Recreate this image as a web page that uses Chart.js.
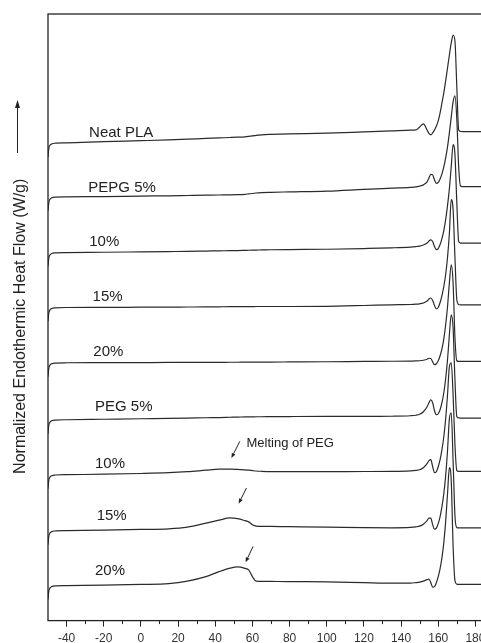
<!DOCTYPE html>
<html>
<head>
<meta charset="utf-8">
<script src="https://cdn.jsdelivr.net/npm/chart.js@4.4.1/dist/chart.umd.min.js"></script>
<style>
html, body { margin: 0; padding: 0; background: #fff; overflow: hidden; }
#wrap { position: absolute; left: 0; top: 0; width: 490px; height: 650px; }
</style>
</head>
<body>
<div id="wrap"><canvas id="dscChart"></canvas></div>
<script>
// temperature grid (deg C), shared by all traces
const temps = [-50, -49.6, -49, -48, -46, -40, -20, 0, 15, 25, 35, 42, 48, 52, 56, 58, 60, 62, 65, 70,
  80, 100, 120, 135, 145, 148, 150, 152, 154, 155, 156, 157, 158, 159, 160, 161, 162, 163, 164, 165,
  166, 167, 168, 169, 170, 171, 172, 173, 175, 180, 188];

const seriesNames = ['Neat PLA', 'PEPG 5%', '10%', '15%', '20%', 'PEG 5%', '10%', '15%', '20%'];

// vertical stacking offset of each trace (arbitrary units)
const baselines = [478, 424, 368.3, 313.3, 258, 201, 146, 90, 35];

// heat flow relative to each trace's own baseline
const neatPLA = [-14, -6, -2.5, -1, -0.3, 0, 1.2, 2.2, 3, 3.7, 4.5, 5, 5.4, 5.7, 6.1, 6.5, 7, 7.6, 8.1, 8.5,
  9, 9.7, 11, 12, 12.8, 13, 16, 19, 13, 9.5, 8, 10, 13, 17, 22, 30, 40, 50, 62, 75,
  88, 100, 108, 102, 56, 13, 11.5, 11.3, 11.3, 11.3, 11.3];
const pepg5 = [-14, -6, -2.5, -1, -0.3, 0, 0.3, 0.8, 1.1, 1.4, 1.7, 1.9, 2, 2.2, 2.6, 3, 3.4, 3.9, 4.3, 4.6,
  5, 5.8, 7.5, 8.7, 9.5, 10, 10.8, 12, 15, 19, 22.5, 22, 17, 13.5, 14.5, 18, 23, 30, 39, 50,
  64, 80, 95, 101, 78, 30, 10.8, 10.3, 10.3, 10.3, 10.3];
const pepg10 = [-14, -6, -2.5, -1, -0.3, 0, 0.3, 0.7, 1, 1.2, 1.5, 1.7, 1.9, 2, 2.2, 2.3, 2.4, 2.5, 2.6, 2.8,
  3, 3.3, 4, 4.7, 5.5, 6, 6.5, 7.5, 9.5, 11.5, 12.7, 11, 6, 3, 4, 8, 14, 22, 33, 47,
  64, 86, 108, 98, 50, 11, 9.5, 9.4, 9.4, 9.4, 9.4];
const pepg15 = [-14, -6, -2.5, -1, -0.3, 0, 0.1, 0.3, 0.4, 0.5, 0.6, 0.7, 0.8, 0.8, 0.9, 0.9, 0.9, 1, 1, 1,
  1, 1.2, 2, 2.7, 3, 3.3, 3.7, 4.5, 6.5, 8.5, 9.5, 7, 2, -1.5, 0, 5, 12, 21, 33, 50,
  74, 108, 98, 50, 8, 3, 2.7, 2.7, 2.7, 2.7, 2.7];
const pepg20 = [-14, -6, -2.5, -1, -0.3, 0, 0.1, 0.2, 0.3, 0.3, 0.4, 0.4, 0.5, 0.5, 0.6, 0.6, 0.6, 0.7, 0.7, 0.7,
  0.8, 1, 1.3, 1.5, 1.7, 1.8, 2, 2.5, 3.5, 4.5, 4.3, 1, -2, -1, 2, 7, 14, 24, 38, 56,
  80, 98, 80, 25, 2, 1.3, 1.3, 1.3, 1.3, 1.3, 1.3];
const peg5 = [-14, -6, -2.5, -1, -0.3, 0, 0.5, 1, 1.3, 1.6, 2, 2.2, 2.5, 2.7, 2.8, 2.9, 2.9, 3, 3, 3.1,
  3.2, 3.3, 3.3, 3.5, 4, 4.5, 5.5, 8, 13, 17, 20, 17, 9, 5, 6, 10, 17, 27, 41, 60,
  85, 105, 92, 40, 3, 1.8, 1.7, 1.7, 1.7, 1.7, 1.7];
const peg10 = [-14, -6, -2.5, -1, -0.3, 0, 0.5, 1.2, 2, 3, 4.5, 5.5, 5.6, 5.3, 4.8, 4.5, 4.1, 3.7, 3.4, 3.1,
  3, 3, 3.2, 3.3, 3.8, 4.3, 5, 7, 11, 14, 15, 8, 2, 3, 8, 15, 25, 38, 56, 80,
  108, 112, 80, 30, 4, 3.3, 3.3, 3.3, 3.3, 3.3, 3.3];
const peg15 = [-14, -6, -2.5, -1, -0.3, 0, 0.5, 1.2, 1.8, 3.5, 7.5, 10.5, 12.7, 12, 10, 8.8, 6, 4.6, 4.3, 4.2,
  4, 3.6, 3, 2.8, 3.2, 3.8, 4.5, 6.5, 10, 12.5, 12.5, 6, 1.5, 2.5, 7, 14, 24, 37, 55, 80,
  112, 118, 70, 15, 3, 2.7, 2.7, 2.7, 2.7, 2.7, 2.7];
const peg20 = [-14, -6, -2.5, -1, -0.3, 0, 0.5, 1.2, 2, 4.5, 9, 14, 17.5, 18.7, 17.3, 15.8, 9, 4.5, 4.3, 4.2,
  4, 3.8, 3, 2.5, 2.5, 3, 3.5, 4.5, 6, 6.5, 3, -1.5, -1, 3, 9, 17, 28, 43, 64, 92,
  118, 105, 40, 5, 1.5, 1.2, 1.2, 1.2, 1.2, 1.2, 1.2];

const traces = [neatPLA, pepg5, pepg10, pepg15, pepg20, peg5, peg10, peg15, peg20];

const xMajorTicks = [-40, -20, 0, 20, 40, 60, 80, 100, 120, 140, 160, 180];
const xMinorTicks = [-30, -10, 10, 30, 50, 70, 90, 110, 130, 150, 170];

// where each trace name sits (temperature, height)
const labelT = [-27.9, -28.3, -27.8, -26, -25.6, -24.7, -24.7, -23.8, -24.7];
const labelH = [484.3, 429.3, 375.3, 320.3, 264.3, 209.3, 152.7, 101, 46];

// "Melting of PEG" pointers: [tempFrom, hFrom, tempTo, hTo]
const pegArrows = [[53.2, 179.3, 48.7, 162.7], [56.8, 132.7, 52.6, 117], [60.4, 74.3, 56.3, 58.3]];
const noteText = 'Melting of PEG';
const noteAt = [56.8, 177.7];

const yTitle = 'Normalized Endothermic Heat Flow (W/g)';

const FONT = "'Liberation Sans', Arial, Helvetica, sans-serif";
const INK = '#222';

function drawArrow(ctx, x1, y1, x2, y2, headLen, headHalf) {
    const ang = Math.atan2(y2 - y1, x2 - x1);
    const bx = x2 - headLen * Math.cos(ang), by = y2 - headLen * Math.sin(ang);
    ctx.beginPath();
    ctx.moveTo(x1, y1);
    ctx.lineTo(bx, by);
    ctx.stroke();
    ctx.beginPath();
    ctx.moveTo(x2, y2);
    ctx.lineTo(bx + headHalf * Math.sin(ang), by - headHalf * Math.cos(ang));
    ctx.lineTo(bx - headHalf * Math.sin(ang), by + headHalf * Math.cos(ang));
    ctx.closePath();
    ctx.fill();
}

const overlayPlugin = {
    id: 'dscOverlay',
    afterDraw(chart) {
        const { ctx, chartArea: a, scales: { x, y } } = chart;
        ctx.save();
        ctx.strokeStyle = INK;
        ctx.fillStyle = INK;

        // frame
        ctx.lineWidth = 1.3;
        ctx.strokeRect(a.left, a.top, a.right - a.left, a.bottom - a.top);

        // minor ticks
        ctx.lineWidth = 1;
        ctx.beginPath();
        xMinorTicks.forEach(v => {
            const px = Math.round(x.getPixelForValue(v)) + 0.5;
            ctx.moveTo(px, a.bottom);
            ctx.lineTo(px, a.bottom + 3.5);
        });
        ctx.stroke();

        // trace names
        ctx.font = '15px ' + FONT;
        ctx.textAlign = 'left';
        ctx.textBaseline = 'alphabetic';
        seriesNames.forEach((name, i) => {
            ctx.fillText(name, x.getPixelForValue(labelT[i]), y.getPixelForValue(labelH[i]));
        });

        // PEG melting pointers
        pegArrows.forEach(p => {
            drawArrow(ctx, x.getPixelForValue(p[0]), y.getPixelForValue(p[1]),
                x.getPixelForValue(p[2]), y.getPixelForValue(p[3]), 5, 2);
        });
        ctx.font = '13px ' + FONT;
        ctx.textBaseline = 'middle';
        ctx.fillText(noteText, x.getPixelForValue(noteAt[0]), y.getPixelForValue(noteAt[1]));

        // y title + endo-up arrow
        const midY = (a.top + a.bottom) / 2 + 9;
        ctx.save();
        ctx.translate(a.left - 23, midY);
        ctx.rotate(-Math.PI / 2);
        ctx.font = '16px ' + FONT;
        ctx.textAlign = 'center';
        ctx.textBaseline = 'alphabetic';
        ctx.fillText(yTitle, 0, 0);
        ctx.restore();
        ctx.lineWidth = 1;
        drawArrow(ctx, a.left - 30.5, a.top + 139, a.left - 30.5, a.top + 86, 8, 2.5);

        ctx.restore();
    }
};

function buildDatasets() {
    return traces.map((vals, i) => ({
        label: seriesNames[i],
        data: temps.map((t, k) => ({ x: t, y: baselines[i] + vals[k] })),
        borderColor: '#2b2b2b',
        borderWidth: 1.2,
        pointRadius: 0,
        fill: false,
        cubicInterpolationMode: 'monotone'
    }));
}

new Chart(document.getElementById('dscChart').getContext('2d'), {
    type: 'line',
    data: { datasets: buildDatasets() },
    plugins: [overlayPlugin],
    options: {
        responsive: true,
        maintainAspectRatio: false,
        animation: false,
        layout: { padding: { left: 48, top: 14, right: 4.4, bottom: 0 } },
        plugins: { legend: { display: false }, tooltip: { enabled: false } },
        scales: {
            x: {
                type: 'linear',
                min: -50,
                max: 185,
                afterBuildTicks: scale => { scale.ticks = xMajorTicks.map(v => ({ value: v })); },
                grid: { drawOnChartArea: false, drawTicks: true, tickLength: 6, color: INK, lineWidth: 1 },
                border: { display: false },
                ticks: { color: '#333', padding: 4.5, maxRotation: 0, autoSkip: false, font: { size: 12, family: FONT } }
            },
            y: {
                type: 'linear',
                display: false,
                min: 0,
                max: 607
            }
        }
    }
});
</script>
</body>
</html>
